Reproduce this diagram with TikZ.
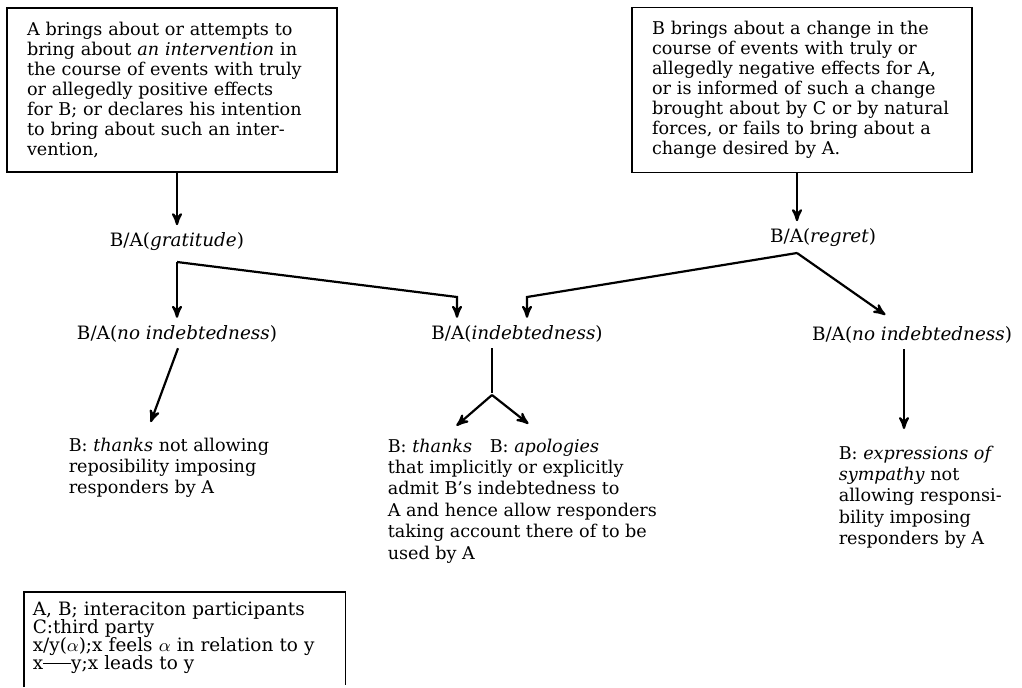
\documentclass[tikz,border=0pt]{standalone}
\usepackage{fontspec}
\setmainfont{DejaVu Serif}
\usepackage{tikz}
\usetikzlibrary{arrows}
\newcommand{\legendfont}{\fontsize{9.2}{9}\selectfont\lineskiplimit=-8pt\relax}

\begin{document}
\begin{tikzpicture}[->,>=stealth',shorten >=1pt,thick,x=0.5pt,y=-0.5pt]
      \tikzstyle{line} = [draw=black, line width=1.1pt]
      \tikzstyle{event box} = [draw, -, line width=0.7pt, align=left, inner xsep=10pt, inner ysep=7pt,
         font=\fontsize{8.8}{10}\selectfont]
      \tikzstyle{state} = [inner sep=2.5pt, font=\fontsize{9.2}{10}\selectfont]
      \tikzstyle{reaction} = [anchor=north west, align=left, inner sep=0pt,
         font=\fontsize{8.8}{10.7}\selectfont]
      \tikzstyle{key} = [anchor=north west, align=left, inner xsep=4pt, inner ysep=4.5pt, text width=152pt,
         font=\legendfont]
      \useasboundingbox (0,0) rectangle (1022,687);
      %nodes
      \node[event box, text width=145pt] (give) at (172,90) {A brings about or attempts to\\
         bring about \textit{an intervention} in\\ the course of events with truly\\
         or allegedly positive effects\\ for B; or declares his intention\\
         to bring about such an inter-\\ vention,};
      \node[event box, text width=150pt] (harm) at (802,90) {B brings about a change in the\\
         course of events with truly or\\ allegedly negative effects for A,\\
         or is informed of such a change\\ brought about by C or by natural\\
         forces, or fails to bring about a\\ change desired by A.};
      \node[state] (grat) at (177,242) {B/A(\textit{gratitude})};
      \node[state] (regret) at (823,238) {B/A(\textit{regret})};
      \node[state] (noind1) at (177,334) {B/A(\textit{no indebtedness})};
      \node[state] (ind) at (517,334) {B/A(\textit{indebtedness})};
      \node[state] (noind2) at (912,335) {B/A(\textit{no indebtedness})};
      \node[reaction] (thanks1) at (68,437) {B: \textit{thanks} not allowing\\ reposibility imposing\\
         responders by A};
      \node[reaction] (thanks2) at (387,438) {B: \textit{thanks}\quad B: \textit{apologies}\\
         that implicitly or explicitly\\ admit B's indebtedness to\\ A and hence allow responders\\
         taking account there of to be\\ used by A};
      \node[reaction] (sympathy) at (838,445) {B: \textit{expressions of}\\ \textit{sympathy} not\\
         allowing responsi-\\ bility imposing\\ responders by A};
      \node[key] (legend) at (24,592) {A, B; interaciton participants\\ C:third party\\
         x/y($\alpha$);x feels $\alpha$ in relation to y\\
         x\raisebox{0.55ex}{\rule{14pt}{0.5pt}}y;x leads to y};

      %branch points
      \coordinate (gfork) at (177,262);
      \coordinate (gbend) at (457,297);
      \coordinate (rfork) at (797,253);
      \coordinate (rbend) at (527,297);
      \coordinate (rtip) at (887,316);
      \coordinate (ltip) at (150,424);
      \coordinate (mfork) at (492,395);
      \coordinate (mtipl) at (455,427);
      \coordinate (mtipr) at (530,425);
      \coordinate (rdown) at (904,431);
      \coordinate (keyend) at (0,687);

      %lines
      \draw[line] (give.south -| gfork) -- (grat.north -| gfork);
      \draw[line] (harm.south -| rfork) -- (regret.north -| rfork);
      \draw[line] (gfork) -- (noind1.north -| gfork);
      \draw[line] (gfork) -- (gbend) -- (ind.north -| gbend);
      \draw[line] (rfork) -- (rbend) -- (ind.north -| rbend);
      \draw[line] (rfork) -- (rtip);
      \draw[line] ([xshift=0.5pt]noind1.south) -- (ltip);
      \draw[line, -] (ind.south -| mfork) -- (mfork);
      \draw[line] (mfork) -- (mtipl);
      \draw[line] (mfork) -- (mtipr);
      \draw[line] (noind2.south -| rdown) -- (rdown);
      \draw[-, line width=0.7pt] (legend.west |- keyend) -- (legend.north west) -- (legend.north east)
         -- (legend.east |- keyend);
\end{tikzpicture}
\end{document}
